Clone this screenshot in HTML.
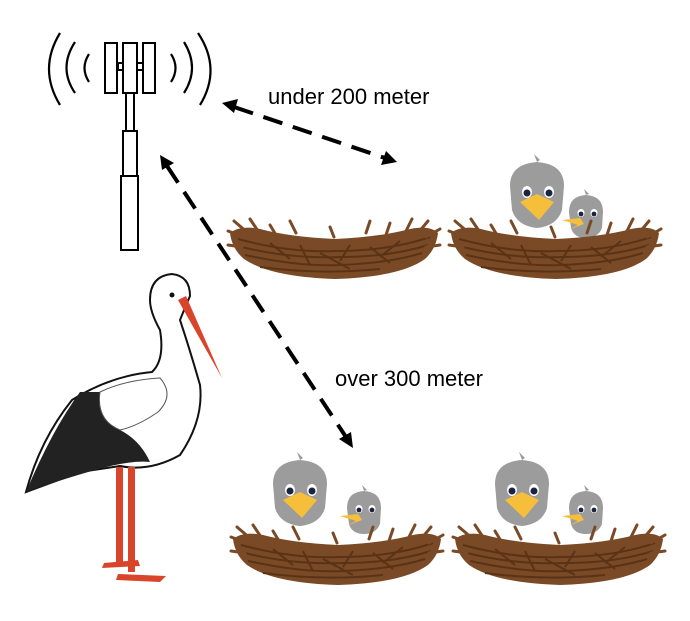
<!DOCTYPE html>
<html><head><style>
html,body{margin:0;padding:0;background:#fff;}
svg{display:block;}
text{font-family:"Liberation Sans",Arial,sans-serif;}
</style></head><body>
<svg width="690" height="621" viewBox="0 0 690 621" xmlns="http://www.w3.org/2000/svg">
<defs>
<g id="nest">
  <path d="M0,18 Q10,10 30,14 Q60,22 105,24 Q150,22 180,14 Q200,10 208,18 Q206,34 195,44 Q170,62 105,64 Q40,62 14,44 Q2,34 0,18Z" fill="#7a4a26"/>
  <g stroke="#5a3316" stroke-width="2" fill="none">
    <path d="M8,24 Q60,38 105,36 Q160,36 200,22"/>
    <path d="M12,32 Q60,44 110,42 Q160,42 198,30"/>
    <path d="M15,40 Q70,52 110,50 Q160,48 192,38"/>
    <path d="M30,52 Q90,60 150,54"/>
    <path d="M40,28 L60,44 M90,38 L120,54 M140,32 L160,48 M170,26 L150,42 M70,30 L80,50 M120,30 L110,46"/>
  </g>
  <g stroke="#7a4a26" stroke-width="3" stroke-linecap="round">
    <path d="M-2,16 L14,22 M4,6 L18,18 M20,4 L28,16 M182,4 L176,16 M198,6 L188,18 M210,14 L196,22 M-2,30 L12,32 M210,30 L196,32 M40,10 L46,20 M160,8 L156,20 M60,6 L66,18 M140,6 L136,18 M100,12 L104,22"/>
  </g>
</g>
<g id="bigbird">
  <path d="M-27,-10 Q-27,-32 0,-34 Q27,-32 27,-10 L25,14 Q20,30 0,32 Q-20,30 -25,14Z" fill="#9c9c9c"/>
  <path d="M0,-34 L-3,-42 L3,-36Z" fill="#9c9c9c"/>
  <ellipse cx="-10" cy="-4" rx="5" ry="6" fill="#fff"/><circle cx="-10" cy="-3" r="3.5" fill="#1a2440"/>
  <ellipse cx="12" cy="-4" rx="5" ry="6" fill="#fff"/><circle cx="12" cy="-3" r="3.5" fill="#1a2440"/>
  <path d="M-17,6 L0,-2 L17,6 L2,24Z" fill="#f5bf3c"/>
</g>
<g id="smallbird">
  <path d="M-17,-4 Q-17,-20 0,-21 Q17,-20 17,-4 L16,12 Q12,22 0,22 Q-12,22 -15,12Z" fill="#9c9c9c"/>
  <path d="M0,-21 L-2,-27 L3,-22Z" fill="#9c9c9c"/>
  <ellipse cx="-5" cy="-3" rx="3.5" ry="4" fill="#fff"/><circle cx="-5" cy="-2" r="2.4" fill="#1a2440"/>
  <ellipse cx="8" cy="-3" rx="3.5" ry="4" fill="#fff"/><circle cx="8" cy="-2" r="2.4" fill="#1a2440"/>
  <path d="M-24,4 L-6,2 L-2,8 L-18,14 L-8,9Z" fill="#f5bf3c"/>
</g>
</defs>

<!-- tower -->
<g fill="#fff" stroke="#000" stroke-width="2">
  <rect x="118" y="63" width="26" height="7"/>
  <rect x="105" y="43" width="12" height="50"/>
  <rect x="143" y="43" width="12" height="50"/>
  <rect x="123" y="43" width="14" height="50"/>
  <rect x="126" y="93" width="8" height="38"/>
  <rect x="123" y="131" width="14" height="45"/>
  <rect x="121" y="176" width="17" height="74"/>
</g>
<g fill="none" stroke="#000" stroke-width="2.2">
  <path d="M60,33 Q38,69 60,105"/>
  <path d="M75,42 Q58,68 75,93"/>
  <path d="M89,54 Q80,68 89,82"/>
  <path d="M198,33 Q222,69 200,105"/>
  <path d="M184,42 Q200,68 184,93"/>
  <path d="M171,54 Q180,68 171,82"/>
</g>

<!-- arrows -->
<g stroke="#000" stroke-width="4" stroke-dasharray="20,11" fill="none">
  <line x1="234" y1="107" x2="385" y2="158"/>
  <line x1="167" y1="166" x2="346" y2="437"/>
</g>
<g fill="#000">
  <polygon points="222,103 238,99 234,113"/>
  <polygon points="397,162 381,165 386,151"/>
  <polygon points="160,155 174,163 162,170"/>
  <polygon points="353,448 339,439 351,432"/>
</g>
<text x="268" y="104" font-size="22">under 200 meter</text>
<text x="335" y="386" font-size="22">over 300 meter</text>

<!-- nests -->
<use href="#nest" x="230" y="215"/>
<use href="#bigbird" x="537" y="196"/>
<use href="#smallbird" x="586" y="216"/>
<use href="#nest" x="451" y="215"/>

<use href="#bigbird" x="300" y="494"/>
<use href="#smallbird" x="364" y="512"/>
<use href="#nest" x="233" y="521"/>
<use href="#bigbird" x="522" y="494"/>
<use href="#smallbird" x="586" y="512"/>
<use href="#nest" x="455" y="521"/>

<!-- stork -->
<g>
  <path d="M150,300 Q150,276 172,274 Q190,276 190,296 Q184,310 180,320 Q190,350 200,385 Q204,420 180,455 Q150,472 120,466 L80,472 L26,492 Q40,440 72,400 Q110,376 152,372 Q165,360 160,330 Q150,312 150,300Z" fill="#fff" stroke="#111" stroke-width="2"/>
  <path d="M80,392 Q52,430 26,492 Q60,480 95,470 Q130,460 150,462 Q140,440 120,430 Q96,418 100,392Z" fill="#222"/>
  <path d="M100,392 Q125,380 160,378 Q175,395 158,412 Q138,426 120,430 Q96,420 100,392Z" fill="#fff" stroke="#555" stroke-width="1"/>
  <path d="M178,300 L222,378 L186,296Z" fill="#d9452b"/>
  <circle cx="172" cy="295" r="2.5" fill="#111"/>
  <g fill="#d9452b">
    <rect x="116" y="467" width="7" height="95"/>
    <rect x="128" y="467" width="7" height="105"/>
    <path d="M104,563 L138,560 L140,566 L102,568Z"/>
    <path d="M118,574 L166,576 L160,582 L116,580Z"/>
  </g>
</g>
</svg>
</body></html>
